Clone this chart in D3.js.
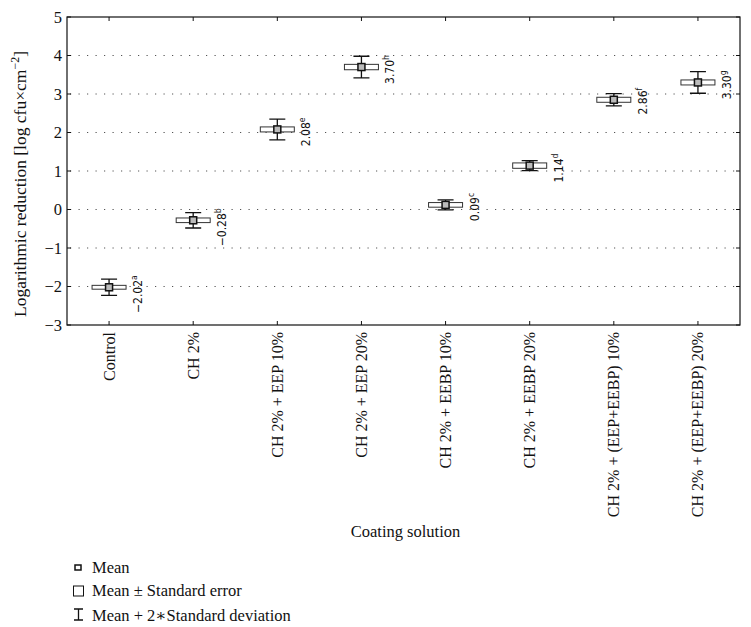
<!DOCTYPE html>
<html>
<head>
<meta charset="utf-8">
<script src="https://cdn.jsdelivr.net/npm/d3@7"></script>
<style>
  body { margin: 0; background: #fff; }
  svg { display: block; }
</style>
</head>
<body>
<div id="chart"></div>
<script>
// chart values
let categories = ['Control', 'CH 2%', 'CH 2% + EEP 10%', 'CH 2% + EEP 20%',
  'CH 2% + EEBP 10%', 'CH 2% + EEBP 20%', 'CH 2% + (EEP+EEBP) 10%', 'CH 2% + (EEP+EEBP) 20%'];
let means = [-2.02, -0.28, 2.08, 3.70, 0.12, 1.14, 2.85, 3.30];
let stdErr = [0.05, 0.06, 0.065, 0.07, 0.06, 0.07, 0.065, 0.065];
let twoSd = [0.21, 0.20, 0.27, 0.28, 0.13, 0.13, 0.16, 0.28];
let valueLabels = ['\u22122.02', '\u22120.28', '2.08', '3.70', '0.09', '1.14', '2.86', '3.30'];
let letters = ['a', 'b', 'e', 'h', 'c', 'd', 'f', 'g'];
let yTicks = [-3, -2, -1, 0, 1, 2, 3, 4, 5];
let legendItems = ['Mean', 'Mean \u00b1 Standard error', 'Mean + 2\u2217Standard deviation'];

let serifFont = "'Liberation Serif', 'Times New Roman', Tinos, 'DejaVu Serif', 'Noto Serif', serif";
let narrowFont = "'Liberation Sans Narrow', 'Arial Narrow', 'DejaVu Sans Condensed', 'Liberation Sans', sans-serif";

let svgWidth = 751;
let svgHeight = 627;
let plot = { left: 67, top: 17, right: 740, bottom: 325 };

let data = categories.map((c, i) => ({
  cat: c, mean: means[i], se: stdErr[i], sd2: twoSd[i], label: valueLabels[i], sup: letters[i]
}));

let svg = d3.select('#chart').append('svg')
  .attr('width', svgWidth)
  .attr('height', svgHeight);

let x = d3.scaleBand()
  .domain(categories)
  .range([plot.left, plot.right]);

let y = d3.scaleLinear()
  .domain([-3, 5])
  .range([plot.bottom, plot.top]);

let cx = d => x(d) + x.bandwidth() / 2;

// dotted grid lines
svg.append('g')
  .selectAll('line')
  .data(yTicks.filter(t => t > -3 && t < 5))
  .enter()
  .append('line')
  .attr('x1', plot.left + 3)
  .attr('x2', plot.right - 2)
  .attr('y1', d => y(d))
  .attr('y2', d => y(d))
  .attr('stroke', '#555')
  .attr('stroke-width', 1.2)
  .attr('stroke-dasharray', '1.2,7.3');

// y axis labels
let leftAxis = d3.axisLeft(y).tickValues(yTicks).tickSize(0).tickPadding(5)
  .tickFormat(d => d < 0 ? '\u2212' + Math.abs(d) : d);
let yAxis = svg.append('g')
  .attr('transform', `translate(${plot.left},0)`)
  .call(leftAxis)
  .attr('font-family', serifFont)
  .attr('font-size', 16.5);
yAxis.select('.domain').remove();
yAxis.selectAll('text').attr('fill', '#111');

// tick marks on all four sides, pointing inward
let ticks = svg.append('g').attr('stroke', '#111').attr('stroke-width', 1);
categories.forEach(c => {
  ticks.append('line').attr('x1', cx(c)).attr('x2', cx(c)).attr('y1', plot.bottom).attr('y2', plot.bottom - 4);
  ticks.append('line').attr('x1', cx(c)).attr('x2', cx(c)).attr('y1', plot.top).attr('y2', plot.top + 4);
});
yTicks.forEach(t => {
  ticks.append('line').attr('x1', plot.left).attr('x2', plot.left + 4).attr('y1', y(t)).attr('y2', y(t));
  ticks.append('line').attr('x1', plot.right).attr('x2', plot.right - 4).attr('y1', y(t)).attr('y2', y(t));
});

// frame
svg.append('rect')
  .attr('x', plot.left)
  .attr('y', plot.top)
  .attr('width', plot.right - plot.left)
  .attr('height', plot.bottom - plot.top)
  .attr('fill', 'none')
  .attr('stroke', '#111')
  .attr('stroke-width', 1.2);

// category labels, rotated
svg.append('g')
  .attr('font-family', serifFont)
  .attr('font-size', 16)
  .selectAll('text')
  .data(categories)
  .enter()
  .append('text')
  .attr('fill', '#111')
  .attr('transform', d => `translate(${cx(d) + 5.5},${plot.bottom + 7}) rotate(-90)`)
  .attr('text-anchor', 'end')
  .text(d => d);

// error bars, SE boxes and means
let marks = svg.append('g');
let capW = 8;
let boxW = 17;

marks.selectAll('.whisker')
  .data(data)
  .enter()
  .append('path')
  .attr('class', 'whisker')
  .attr('fill', 'none')
  .attr('stroke', '#111')
  .attr('stroke-width', 1.3)
  .attr('d', d => {
    let c = cx(d.cat), t = y(d.mean + d.sd2), b = y(d.mean - d.sd2);
    return `M${c - capW},${t}H${c + capW}M${c},${t}V${b}M${c - capW},${b}H${c + capW}`;
  });

marks.selectAll('.sebox')
  .data(data)
  .enter()
  .append('rect')
  .attr('class', 'sebox')
  .attr('x', d => cx(d.cat) - boxW)
  .attr('y', d => y(d.mean + d.se))
  .attr('width', boxW * 2)
  .attr('height', d => y(d.mean - d.se) - y(d.mean + d.se))
  .attr('fill', '#fff')
  .attr('stroke', '#333')
  .attr('stroke-width', 1);

marks.selectAll('.meanpt')
  .data(data)
  .enter()
  .append('rect')
  .attr('class', 'meanpt')
  .attr('x', d => cx(d.cat) - 3.5)
  .attr('y', d => y(d.mean) - 3.5)
  .attr('width', 7)
  .attr('height', 7)
  .attr('fill', '#bbb')
  .attr('stroke', '#111')
  .attr('stroke-width', 1.5);

// value labels with superscript letters
let vl = marks.selectAll('.vlabel')
  .data(data)
  .enter()
  .append('text')
  .attr('font-family', narrowFont)
  .attr('font-size', 12)
  .attr('fill', '#111')
  .attr('transform', d => `translate(${cx(d.cat) + 33},${y(d.mean) - 12}) rotate(-90)`)
  .attr('text-anchor', 'end');
vl.append('tspan').text(d => d.label);
vl.append('tspan')
  .attr('dy', -5)
  .attr('font-size', 8.5)
  .text(d => d.sup);

// axis titles
let yTitle = svg.append('text')
  .attr('font-family', serifFont)
  .attr('font-size', 17.5)
  .attr('fill', '#111')
  .attr('transform', `translate(26,${(plot.top + plot.bottom) / 2 + 13}) rotate(-90)`)
  .attr('text-anchor', 'middle');
yTitle.append('tspan').text('Logarithmic reduction [log cfu\u00d7cm');
yTitle.append('tspan').attr('dy', -7).attr('font-size', 12).text('\u22122');
yTitle.append('tspan').attr('dy', 7).text(']');

svg.append('text')
  .attr('font-family', serifFont)
  .attr('font-size', 16.5)
  .attr('fill', '#111')
  .attr('x', (plot.left + plot.right) / 2 + 2)
  .attr('y', 537)
  .attr('text-anchor', 'middle')
  .text('Coating solution');

// legend
let legend = svg.append('g');
let rowY = [573, 596, 621];
legendItems.forEach((t, i) => {
  legend.append('text')
    .attr('font-family', serifFont)
    .attr('font-size', 16.5)
    .attr('fill', '#111')
    .attr('x', 92)
    .attr('y', rowY[i])
    .text(t);
});
legend.append('rect')
  .attr('x', 75).attr('y', rowY[0] - 8).attr('width', 6).attr('height', 5)
  .attr('fill', '#fff').attr('stroke', '#111').attr('stroke-width', 1.5);
legend.append('rect')
  .attr('x', 73.5).attr('y', rowY[1] - 10).attr('width', 10).attr('height', 10)
  .attr('fill', '#fff').attr('stroke', '#111').attr('stroke-width', 1);
legend.append('path')
  .attr('d', `M74,${rowY[2] - 12}H83M78.5,${rowY[2] - 12}V${rowY[2] - 1}M74,${rowY[2] - 1}H83`)
  .attr('fill', 'none').attr('stroke', '#111').attr('stroke-width', 1.3);
</script>
</body>
</html>
